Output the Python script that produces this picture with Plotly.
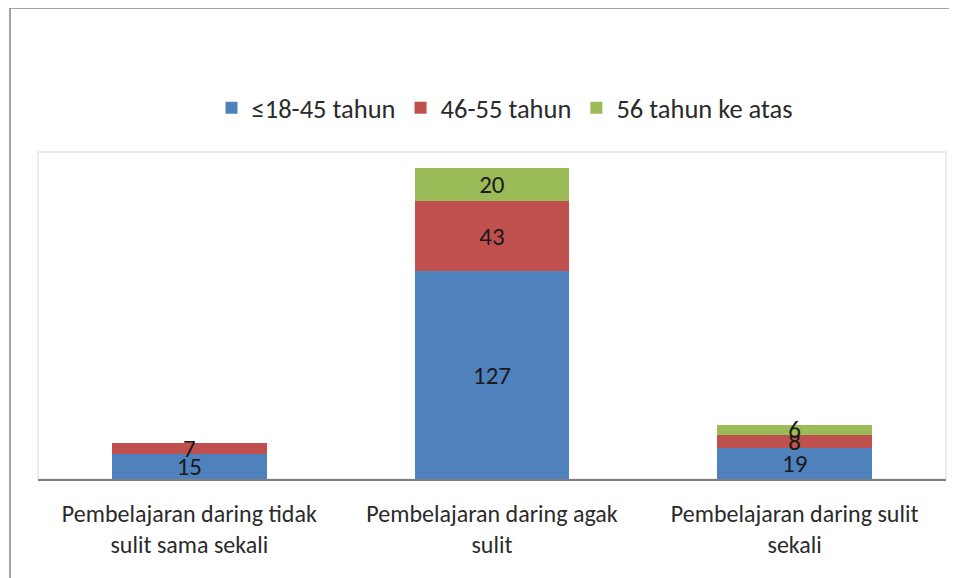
import plotly.graph_objects as go

categories = ["Pembelajaran daring tidak<br>sulit sama sekali",
              "Pembelajaran daring agak<br>sulit",
              "Pembelajaran daring sulit<br>sekali"]
series_names = ["≤18-45 tahun", "46-55 tahun", "56 tahun ke atas"]
vals_18_45 = [15, 127, 19]
vals_46_55 = [7, 43, 8]
vals_56 = [0, 20, 6]
colors = ["#4F81BD", "#C0504D", "#9BBB59"]

FONT = "Carlito, Lato, sans-serif"
TXT = "#2b2b2b"

fig = go.Figure()
for name, vals, col in zip(series_names, [vals_18_45, vals_46_55, vals_56], colors):
    fig.add_trace(go.Bar(
        x=categories, y=vals, name=name,
        marker=dict(color=col, line=dict(width=0)),
        text=[str(v) if v else "" for v in vals],
        textposition="inside", insidetextanchor="middle",
        textangle=0, constraintext="none",
        textfont=dict(family=FONT, size=25, color="#1a1a1a"),
        width=0.51,
    ))

# page body has an 8px margin, so design coordinates are shifted by -8
OFF = 8
W, H = 957, 578
L, R, T, B = 38 - OFF, 946 - OFF, 152 - OFF, 479 - OFF
pw, ph = R - L, B - T

def px(x):
    return (x - OFF - L) / pw

def py(y):
    return (B - (y - OFF)) / ph

fig.update_layout(
    width=W, height=H,
    barmode="stack",
    margin=dict(l=L, r=W - R, t=T, b=H - B),
    paper_bgcolor="white", plot_bgcolor="white",
    font=dict(family=FONT, size=24, color=TXT),
    showlegend=True,
    legend=dict(orientation="h", x=px(505), y=py(108), xanchor="center", yanchor="middle",
                font=dict(family=FONT, size=26.5, color=TXT), itemwidth=30,
                traceorder="normal"),
    xaxis=dict(showgrid=False, showline=True, linecolor="#7f7f7f", linewidth=2,
               ticks="", tickfont=dict(family=FONT, size=24, color=TXT),
               ticklabelstandoff=12),
    yaxis=dict(range=[0, 200], showgrid=False, showticklabels=False, zeroline=False,
               showline=False),
    shapes=[
        dict(type="rect", xref="paper", yref="paper", x0=0, x1=1, y0=0, y1=1,
             line=dict(color="#d9d9d9", width=1), layer="below"),
        dict(type="rect", xref="paper", yref="paper", x0=px(10), x1=px(990), y0=py(620), y1=py(8),
             line=dict(color="#888888", width=1.5), layer="below"),
    ],
)

fig.write_html("out.html")
